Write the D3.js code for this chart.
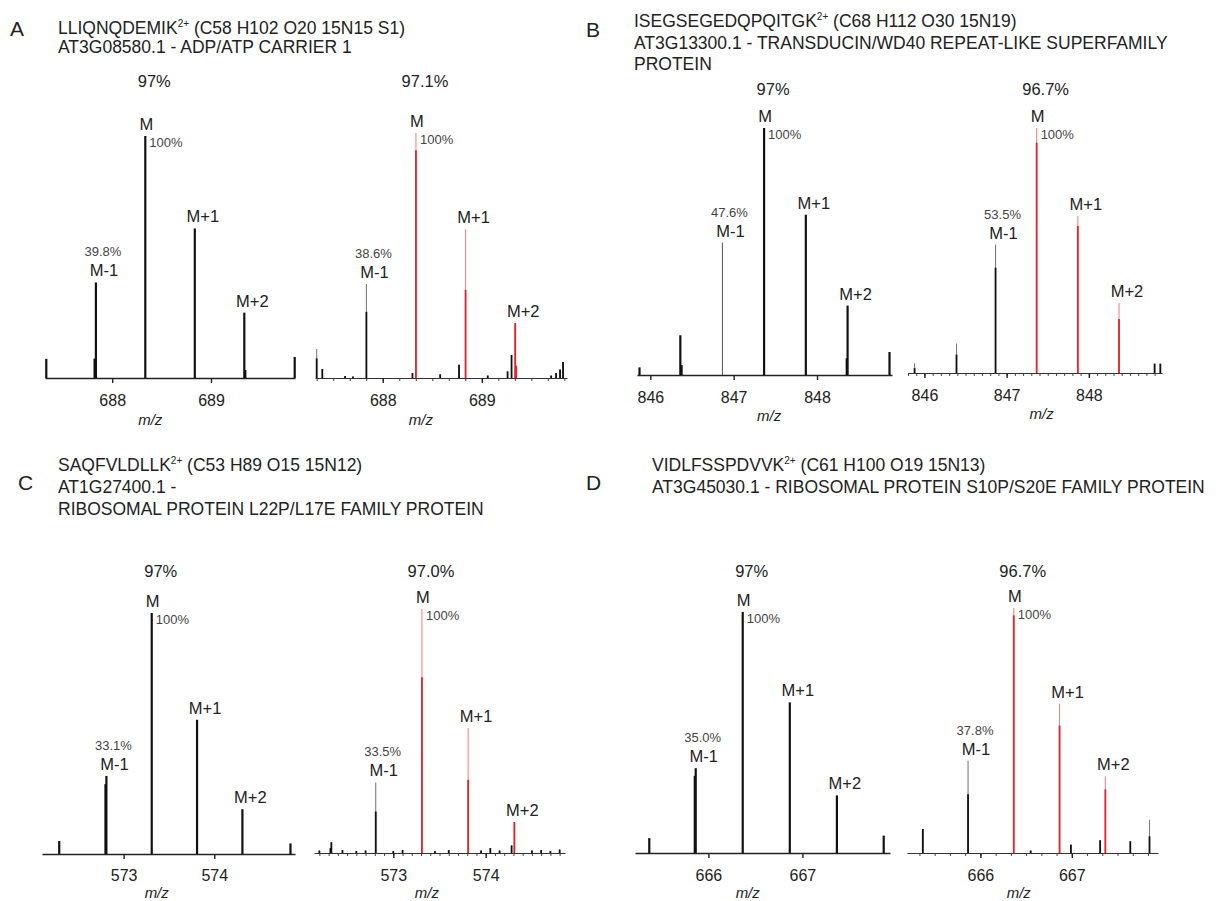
<!DOCTYPE html>
<html>
<head>
<meta charset="utf-8">
<script src="https://cdn.jsdelivr.net/npm/d3@7"></script>
<style>
  body { margin: 0; background: #fff; }
  svg { display: block; font-family: "Liberation Sans", Arial, sans-serif; }
</style>
</head>
<body>
<div id="chart"></div>
<script>
// ---- data ----
const panels = ["A", "B", "C", "D"];
const peptides = ["LLIQNQDEMIK", "ISEGSEGEDQPQITGK", "SAQFVLDLLK", "VIDLFSSPDVVK"];
const formulas = [" (C58 H102 O20 15N15 S1)", " (C68 H112 O30 15N19)", " (C53 H89 O15 15N12)", " (C61 H100 O19 15N13)"];
const proteinLines = [
  ["AT3G08580.1 - ADP/ATP CARRIER 1"],
  ["AT3G13300.1 - TRANSDUCIN/WD40 REPEAT-LIKE SUPERFAMILY", "PROTEIN"],
  ["AT1G27400.1 -", "RIBOSOMAL PROTEIN L22P/L17E FAMILY PROTEIN"],
  ["AT3G45030.1 - RIBOSOMAL PROTEIN S10P/S20E FAMILY PROTEIN"]
];

const isotopeNames = ["M-1", "M", "M+1", "M+2"];
const isotopeMz = {
  A: [687.835, 688.335, 688.836, 689.337],
  B: [846.865, 847.365, 847.866, 848.367],
  C: [572.81, 573.31, 573.81, 574.31],
  D: [665.865, 666.365, 666.866, 667.367]
};
// isotopes drawn red in the measured spectra
const labelledIsotopes = ["M", "M+1", "M+2"];

const enrichTheo = ["97%", "97%", "97%", "97%"];
const enrichExp = ["97.1%", "96.7%", "97.0%", "96.7%"];
const mMinus1Theo = ["39.8%", "47.6%", "33.1%", "35.0%"];
const mMinus1Exp = ["38.6%", "53.5%", "33.5%", "37.8%"];

const tickValues = { A: [688, 689], B: [846, 847, 848], C: [573, 574], D: [666, 667] };

// theoretical sticks: [m/z, relative intensity %]
const theoA = [[687.333, 7.9], [687.822, 8], [687.835, 39.5], [688.335, 100], [688.836, 61.8], [689.337, 27], [689.347, 3.3], [689.847, 8.7]];
const theoB = [[845.87, 3.1], [846.36, 16.1], [846.375, 4], [846.865, 53.6], [847.365, 100], [847.866, 64.9], [848.357, 6.8], [848.367, 28.1], [848.87, 9.3]];
const theoC = [[572.29, 5.4], [572.80, 29], [572.81, 32.4], [573.31, 100], [573.81, 55.7], [574.31, 18.6], [574.84, 4.4]];
const theoD = [[665.371, 6.2], [665.855, 32], [665.865, 35.2], [666.365, 100], [666.866, 62.5], [667.367, 23.9], [667.865, 7.2]];
// the B theoretical M-1 stick is drawn as a hairline
const hairlines = { B: [846.865] };

// measured sticks: [m/z, peak top %, solid body %]
const expA = [[687.333, 11.8, 8], [687.39, 3.7, 3.7], [687.62, 0.8, 0.8], [687.70, 0.6, 0.6], [687.835, 38.4, 27],
  [688.30, 2, 2], [688.335, 100, 93], [688.58, 1.5, 1.5], [688.77, 5.4, 5.4], [688.836, 60.7, 36], [689.06, 1, 1],
  [689.26, 2.7, 2.7], [689.30, 9.4, 9.4], [689.337, 22.4, 22.4], [689.347, 5, 5],
  [689.70, 1, 1], [689.75, 2, 2], [689.79, 3.5, 3.5], [689.82, 6.5, 6.5]];
const expB = [[845.88, 4, 2], [846.39, 12, 7.5], [846.865, 52.4, 43], [847.365, 100, 94], [847.866, 64.2, 60],
  [848.367, 28.6, 22], [848.80, 3.8, 3.8], [848.87, 3.8, 3.8]];
const expC = [[572.2, 1, 1], [572.32, 2, 2], [572.33, 4.4, 4.4], [572.45, 1.2, 1.2], [572.6, 0.8, 0.8], [572.7, 1, 1],
  [572.81, 28.9, 17], [573.0, 0.8, 0.8], [573.1, 1.2, 1.2], [573.31, 100, 72], [573.45, 0.8, 0.8], [573.6, 1.2, 1.2],
  [573.81, 51.2, 30], [573.95, 1, 1], [574.05, 2, 2], [574.15, 1, 1], [574.28, 3.1, 3.1], [574.31, 12.7, 12.7],
  [574.5, 1, 1], [574.6, 1.2, 1.2], [574.7, 0.8, 0.8], [574.8, 1.4, 1.4]];
const expD = [[665.37, 9.8, 9.8], [665.865, 37.7, 24], [666.365, 100, 97], [666.55, 1, 1], [666.866, 60.9, 52],
  [666.99, 3.4, 3.4], [667.31, 5.2, 5.2], [667.367, 31.3, 26], [667.64, 4.8, 4.8], [667.85, 13.6, 6.8]];

const theoSticks = { A: theoA, B: theoB, C: theoC, D: theoD };
const expSticks = { A: expA, B: expB, C: expC, D: expD };

// ---- layout ----
const W = 1219, H = 901;
const RED = "#e8202a";
const headers = [
  { lx: 10, ly: 36, tx: 58, ty: [34, 53] },
  { lx: 586, ly: 37, tx: 634, ty: [27, 49, 70] },
  { lx: 18, ly: 490, tx: 58, ty: [471, 493, 515] },
  { lx: 586, ly: 490, tx: 652, ty: [471, 493] }
];

const plots = [
  { p: 0, kind: "theo", x0: 45, x1: 295, base: 378, top: 136, domain: [687.32, 689.85], tickY: 406, mzY: 425, titleY: 87 },
  { p: 0, kind: "exp", x0: 315, x1: 567, base: 378, top: 133, domain: [687.316, 689.86], tickY: 406, mzY: 425, titleY: 87, minor: 1 / 6 },
  { p: 1, kind: "theo", x0: 637, x1: 892, base: 375, top: 128, domain: [845.84, 848.90], tickY: 403, mzY: 421, titleY: 95 },
  { p: 1, kind: "exp", x0: 908, x1: 1162, base: 373, top: 128, domain: [845.80, 848.89], tickY: 401, mzY: 419, titleY: 95, minor: 0.1 },
  { p: 2, kind: "theo", x0: 42, x1: 295, base: 854, top: 613, domain: [572.10, 574.89], tickY: 881, mzY: 898, titleY: 577 },
  { p: 2, kind: "exp", x0: 314, x1: 565, base: 853, top: 609, domain: [572.142, 574.858], tickY: 881, mzY: 898, titleY: 577, minor: 0.1 },
  { p: 3, kind: "theo", x0: 635, x1: 890, base: 853, top: 612, domain: [665.219, 667.932], tickY: 881, mzY: 898, titleY: 577 },
  { p: 3, kind: "exp", x0: 907, x1: 1158, base: 853, top: 608, domain: [665.197, 667.943], tickY: 881, mzY: 898, titleY: 577, minor: 1 / 6 }
];

const svg = d3.select("#chart").append("svg")
  .attr("width", W)
  .attr("height", H);

// headers
headers.forEach(function(h, i) {
  svg.append("text")
    .attr("x", h.lx).attr("y", h.ly)
    .style("font-size", "21px").style("fill", "#222")
    .text(panels[i]);

  const t = svg.append("text")
    .attr("x", h.tx).attr("y", h.ty[0])
    .style("font-size", "17.5px").style("fill", "#222");
  t.append("tspan").text(peptides[i]);
  t.append("tspan").attr("dy", -7).style("font-size", "10px").text("2+");
  t.append("tspan").attr("dy", 7).text(formulas[i]);

  proteinLines[i].forEach(function(line, j) {
    svg.append("text")
      .attr("x", h.tx).attr("y", h.ty[j + 1])
      .style("font-size", "17.5px").style("fill", "#222")
      .text(line);
  });
});

function peakTop(sticks, mz) {
  const near = sticks.filter(function(s) { return Math.abs(s[0] - mz) < 0.02; });
  return d3.max(near, function(s) { return s[1]; });
}

plots.forEach(function(L) {
  const key = panels[L.p];
  const x = d3.scaleLinear().domain(L.domain).range([L.x0, L.x1]);
  const y = d3.scaleLinear().domain([0, 100]).range([L.base, L.top]);
  const g = svg.append("g");
  const iso = isotopeMz[key];
  const sticks = L.kind === "theo" ? theoSticks[key] : expSticks[key];

  // minor ticks on measured spectra
  if (L.minor) {
    const minorVals = d3.range(Math.ceil(L.domain[0] / L.minor) * L.minor, L.domain[1], L.minor);
    const minorAxis = g.append("g")
      .attr("transform", `translate(0,${L.base})`)
      .call(d3.axisBottom(x).tickValues(minorVals).tickSize(3).tickSizeOuter(0).tickFormat(""));
    minorAxis.select(".domain").remove();
    minorAxis.selectAll("line").attr("stroke", "#444");
  }

  const axis = g.append("g")
    .attr("transform", `translate(0,${L.base})`)
    .call(d3.axisBottom(x)
      .tickValues(tickValues[key])
      .tickSize(5)
      .tickSizeOuter(0)
      .tickPadding(L.tickY - L.base - 16.5)
      .tickFormat(d3.format("d")));
  axis.select(".domain")
    .attr("stroke", L.kind === "theo" ? "#222" : "#333")
    .attr("stroke-width", L.kind === "theo" ? 1.6 : 1.1);
  axis.selectAll(".tick line").attr("stroke", "#222").attr("stroke-width", 1.4);
  axis.selectAll("text")
    .style("font-family", "Liberation Sans, Arial, sans-serif")
    .style("font-size", "16px")
    .attr("fill", "#222");

  // m/z label
  g.append("text")
    .attr("x", x(iso[1]) + 5).attr("y", L.mzY)
    .attr("text-anchor", "middle")
    .style("font-size", "15px").style("font-style", "italic").style("fill", "#222")
    .text("m/z");

  // sticks
  if (L.kind === "theo") {
    const thin = hairlines[key] || [];
    g.selectAll("line.stick").data(sticks).enter()
      .append("line").attr("class", "stick")
      .attr("x1", function(d) { return x(d[0]); })
      .attr("x2", function(d) { return x(d[0]); })
      .attr("y1", y(0))
      .attr("y2", function(d) { return y(d[1]); })
      .attr("stroke", function(d) { return thin.indexOf(d[0]) >= 0 ? "#555" : "#111"; })
      .attr("stroke-width", function(d) { return thin.indexOf(d[0]) >= 0 ? 1 : 2.2; });
  } else {
    const redMz = iso.filter(function(m, i) { return labelledIsotopes.indexOf(isotopeNames[i]) >= 0; });
    const colorOf = function(d) {
      return redMz.some(function(m) { return Math.abs(d[0] - m) < 0.02; }) ? RED : "#111";
    };
    g.selectAll("line.thin").data(sticks).enter()
      .append("line").attr("class", "thin")
      .attr("x1", function(d) { return x(d[0]); })
      .attr("x2", function(d) { return x(d[0]); })
      .attr("y1", y(0))
      .attr("y2", function(d) { return y(d[1]); })
      .attr("stroke", colorOf)
      .attr("stroke-opacity", 0.55)
      .attr("stroke-width", 1.1);
    g.selectAll("line.body").data(sticks).enter()
      .append("line").attr("class", "body")
      .attr("x1", function(d) { return x(d[0]); })
      .attr("x2", function(d) { return x(d[0]); })
      .attr("y1", y(0))
      .attr("y2", function(d) { return y(d[2]); })
      .attr("stroke", colorOf)
      .attr("stroke-width", 1.8);
  }

  // enrichment value above the spectrum
  g.append("text")
    .attr("x", x(iso[1]) + 9).attr("y", L.titleY)
    .attr("text-anchor", "middle")
    .style("font-size", "16.5px").style("fill", "#222")
    .text(L.kind === "theo" ? enrichTheo[L.p] : enrichExp[L.p]);

  // isotope labels
  iso.forEach(function(mz, i) {
    const topY = y(peakTop(sticks, mz));
    const name = isotopeNames[i];
    g.append("text")
      .attr("x", x(mz) + (name === "M" ? 1 : 8)).attr("y", topY - 6)
      .attr("text-anchor", "middle")
      .style("font-size", "16.5px").style("fill", "#222")
      .text(name);
    if (name === "M") {
      g.append("text")
        .attr("x", x(mz) + 4).attr("y", y(100) + 11)
        .style("font-size", "13px").style("fill", "#444")
        .text("100%");
    }
    if (name === "M-1") {
      g.append("text")
        .attr("x", x(mz) + 7).attr("y", topY - 26)
        .attr("text-anchor", "middle")
        .style("font-size", "13px").style("fill", "#444")
        .text(L.kind === "theo" ? mMinus1Theo[L.p] : mMinus1Exp[L.p]);
    }
  });
});
</script>
</body>
</html>
